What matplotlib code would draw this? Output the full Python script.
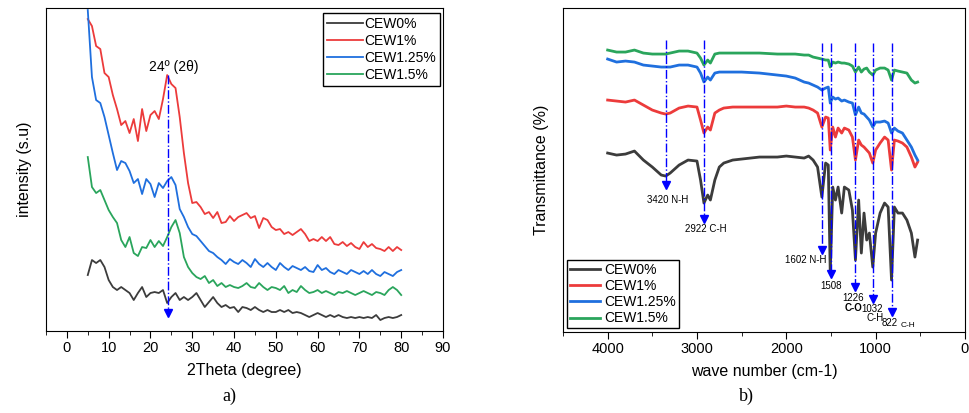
import numpy as np
import matplotlib.pyplot as plt

# ---- data: XRD (a) ----
two_theta = np.arange(5, 81)  # degree
xrd_cew0 = [56, 71, 68, 71, 64, 51, 44, 41, 44, 41, 38, 31, 38, 44, 34, 38, 39, 38, 41, 28,
            34, 38, 31, 34, 31, 34, 38, 31, 24, 29, 34, 28, 24, 26, 23, 24, 19, 24, 23, 21,
            24, 21, 19, 21, 19, 19, 21, 19, 21, 18, 19, 18, 16, 14, 16, 18, 16, 14, 16, 14,
            16, 14, 13, 14, 13, 14, 13, 14, 13, 16, 11, 13, 14, 13, 14, 16]
xrd_cew1 = [312, 305, 285, 282, 258, 254, 236, 222, 206, 210, 198, 212, 190, 222, 200, 216, 220, 212, 232, 256,
            247, 243, 214, 178, 148, 128, 129, 124, 117, 119, 113, 119, 108, 109, 115, 110, 114, 116, 118, 113,
            115, 103, 113, 111, 104, 101, 102, 97, 99, 96, 99, 102, 97, 90, 92, 90, 94, 90, 94, 87,
            86, 89, 85, 88, 84, 82, 89, 84, 87, 83, 82, 80, 84, 80, 84, 81]
xrd_cew125 = [321, 254, 231, 228, 214, 196, 178, 161, 170, 168, 160, 148, 152, 137, 152, 147, 134, 148, 143, 150,
              154, 146, 122, 114, 104, 97, 95, 90, 85, 80, 78, 74, 71, 67, 72, 69, 67, 71, 68, 64,
              72, 67, 64, 68, 64, 61, 68, 64, 61, 65, 63, 61, 64, 60, 59, 66, 61, 63, 59, 57,
              61, 59, 57, 61, 59, 57, 60, 57, 61, 57, 55, 59, 57, 55, 59, 61]
xrd_cew15 = [174, 144, 138, 141, 131, 121, 114, 108, 91, 84, 94, 78, 75, 84, 83, 91, 84, 90, 85, 94,
             104, 111, 98, 74, 64, 58, 54, 52, 55, 48, 51, 45, 48, 44, 46, 44, 43, 45, 48, 44,
             43, 48, 44, 41, 44, 43, 41, 45, 38, 41, 39, 45, 41, 38, 39, 41, 38, 40, 38, 36,
             39, 38, 40, 38, 36, 38, 40, 38, 36, 39, 38, 36, 41, 44, 41, 36]

# ---- data: FTIR (b) ----
wavenum = [4000, 3900, 3800, 3700, 3600, 3500, 3400, 3350, 3300, 3200,
           3100, 3000, 2960, 2922, 2880, 2850, 2800, 2750, 2700, 2600,
           2500, 2300, 2100, 2000, 1900, 1800, 1750, 1700, 1650, 1602,
           1560, 1530, 1508, 1480, 1450, 1420, 1380, 1350, 1300, 1260,
           1226, 1190, 1160, 1130, 1100, 1070, 1032, 1000, 950, 900,
           860, 822, 790, 750, 700, 650, 600, 560, 530]
ftir_cew0 = [179, 177, 178, 181, 172, 165, 157, 156, 159, 167,
             172, 171, 152, 129, 137, 132, 152, 165, 169, 172,
             173, 175, 175, 176, 175, 174, 176, 172, 165, 135,
             169, 167, 59, 145, 132, 145, 119, 145, 142, 122,
             72, 132, 79, 119, 92, 99, 65, 99, 119, 129,
             125, 52, 125, 119, 119, 112, 99, 75, 92]
ftir_cew1 = [232, 231, 230, 232, 227, 222, 219, 218, 219, 224,
             226, 225, 212, 199, 205, 202, 219, 222, 224, 225,
             225, 225, 225, 226, 225, 225, 224, 222, 219, 205,
             215, 214, 182, 205, 195, 204, 199, 204, 202, 195,
             172, 192, 187, 185, 182, 179, 169, 182, 189, 195,
             192, 162, 192, 191, 189, 185, 175, 165, 170]
ftir_cew125 = [273, 270, 271, 270, 267, 266, 265, 265, 265, 267,
               267, 265, 259, 250, 255, 252, 259, 260, 260, 260,
               260, 259, 257, 256, 254, 250, 249, 247, 245, 242,
               244, 245, 229, 235, 233, 234, 231, 232, 230, 229,
               217, 225, 219, 218, 215, 212, 205, 210, 210, 211,
               209, 199, 204, 201, 199, 192, 185, 177, 172]
ftir_cew15 = [282, 280, 280, 282, 279, 278, 278, 278, 279, 281,
              281, 279, 274, 267, 272, 269, 278, 279, 279, 279,
              279, 279, 278, 278, 278, 277, 277, 275, 274, 273,
              272, 272, 265, 270, 269, 270, 269, 269, 268, 266,
              260, 265, 260, 263, 264, 260, 257, 262, 264, 264,
              262, 252, 262, 261, 260, 259, 252, 249, 250]

labels = ['CEW0%', 'CEW1%', 'CEW1.25%', 'CEW1.5%']
colors = ['#3c3c3c', '#ec3b3b', '#1f6fde', '#2aa55c']

# FTIR peak markers: position, arrow tip
peak_pos = [3352, 2916, 1602, 1501, 1229, 1032, 812]
peak_top = [292, 292, 289, 289, 289, 289, 289]
peak_tip = [144, 110, 79, 55, 42, 30, 17]

plt.rcParams['font.family'] = ['Liberation Sans', 'DejaVu Sans']
fig = plt.figure(figsize=(9.7, 4.13), dpi=100)

# ---- panel a ----
ax1 = fig.add_axes([0.0474, 0.1985, 0.4093, 0.782])
for yy, lab, col in zip([xrd_cew0, xrd_cew1, xrd_cew125, xrd_cew15], labels, colors):
    ax1.plot(two_theta, yy, color=col, lw=1.3, label=lab)
ax1.plot([24.2, 24.2], [256, 20], color='blue', lw=1, ls='-.')
ax1.plot([24.2], [18], marker='v', color='blue', ms=6, ls='none')
ax1.text(25.6, 264, '24º (2θ)', ha='center', va='center', fontsize=10)
ax1.set_xlim(-5, 90)
ax1.set_ylim(0, 323)
ax1.set_xticks(np.arange(0, 91, 10))
ax1.set_xticks(np.arange(-5, 91, 10), minor=True)
ax1.set_yticks([])
ax1.tick_params(axis='x', direction='out', length=5, labelsize=10.5, pad=2)
ax1.tick_params(axis='x', which='minor', length=3)
ax1.set_xlabel('2Theta (degree)', fontsize=11.5, labelpad=6)
ax1.set_ylabel('intensity (s.u)', fontsize=11.5, labelpad=10)
lg1 = ax1.legend(loc='upper right', bbox_to_anchor=(0.993, 0.985), fontsize=10,
                 frameon=True, fancybox=False, edgecolor='black', framealpha=1,
                 handlelength=2.6, handletextpad=0.1, labelspacing=0.22,
                 borderpad=0.3, borderaxespad=0)
lg1.get_frame().set_linewidth(1)
fig.text(0.236, 0.03, 'a)', ha='center', fontsize=13, family='Liberation Serif')

# ---- panel b ----
ax2 = fig.add_axes([0.5804, 0.196, 0.4144, 0.7845])
for yy, lab, col in zip([ftir_cew0, ftir_cew1, ftir_cew125, ftir_cew15], labels, colors):
    ax2.plot(wavenum, yy, color=col, lw=2, label=lab)
for px, top, tip in zip(peak_pos, peak_top, peak_tip):
    ax2.plot([px, px], [top, tip + 4], color='blue', lw=1, ls='-.')
    ax2.plot([px], [tip + 3], marker='v', color='blue', ms=6, ls='none')
fs = 7
ax2.text(3330, 132, '3420 N-H', ha='center', va='center', fontsize=fs)
ax2.text(2900, 103, '2922 C-H', ha='center', va='center', fontsize=fs)
ax2.text(1555, 72, '1602 N-H', ha='right', va='center', fontsize=fs)
ax2.text(1501, 46, '1508', ha='center', va='center', fontsize=fs)
ax2.text(1250, 34, '1226', ha='center', va='center', fontsize=fs)
ax2.text(1250, 24, 'C-O', ha='center', va='center', fontsize=fs, fontweight='bold')
ax2.text(1155, 23, '1032', ha='left', va='center', fontsize=fs)
ax2.text(1010, 14, 'C-H', ha='center', va='center', fontsize=fs)
ax2.text(935, 9, '822', ha='left', va='center', fontsize=fs)
ax2.text(722, 7, 'C-H', ha='left', va='center', fontsize=6)
ax2.set_xlim(4500, 0)
ax2.set_ylim(0, 324)
ax2.set_xticks(np.arange(0, 4001, 1000))
ax2.set_xticks(np.arange(500, 4501, 1000), minor=True)
ax2.set_yticks([])
ax2.tick_params(axis='x', direction='out', length=5, labelsize=10.5, pad=2)
ax2.tick_params(axis='x', which='minor', length=3)
ax2.set_xlabel('wave number (cm-1)', fontsize=11.5, labelpad=6)
ax2.set_ylabel('Transmittance (%)', fontsize=11.5, labelpad=10)
lg2 = ax2.legend(loc='lower left', bbox_to_anchor=(0.01, 0.012), fontsize=10,
                 frameon=True, fancybox=False, edgecolor='black', framealpha=1,
                 handlelength=2.2, handletextpad=0.3, labelspacing=0.15,
                 borderpad=0.2, borderaxespad=0)
lg2.get_frame().set_linewidth(1)
fig.text(0.77, 0.03, 'b)', ha='center', fontsize=13, family='Liberation Serif')

fig.savefig('out.png', dpi=100)
